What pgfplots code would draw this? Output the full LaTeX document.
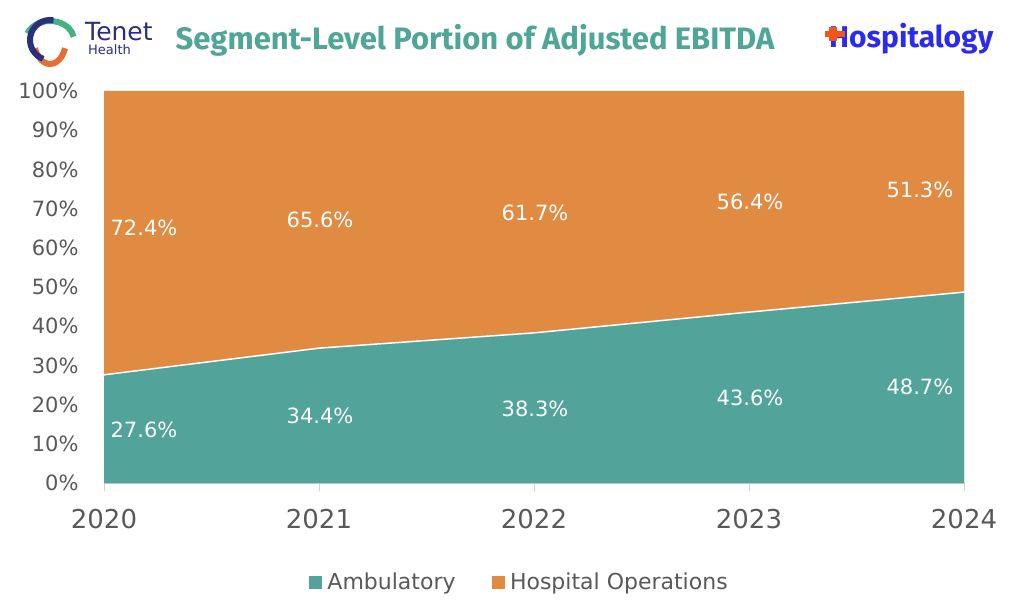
\documentclass[border=0pt]{standalone}
\usepackage{pgfplots}
\pgfplotsset{compat=1.18}
\usepackage{pgfplotstable}
\usepackage{fontspec}
\setmainfont{DejaVu Sans}
\newfontfamily\titlefont{Fira Sans}
\definecolor{teal}{HTML}{52A39A}
\definecolor{orng}{HTML}{E08A42}
\definecolor{ttl}{HTML}{4FA596}
\definecolor{tick}{HTML}{595959}
\definecolor{navy}{HTML}{2B2F7F}
\definecolor{hblue}{HTML}{2B2BEE}
\definecolor{hred}{HTML}{F2561D}
\definecolor{axisgray}{HTML}{D0D0D0}
\pgfplotstableread{
x amb hosp
0 27.6 72.4
1 34.4 65.6
2 38.3 61.7
3 43.6 56.4
4 48.7 51.3
}\datatable
\begin{document}
\begin{tikzpicture}[x=1pt,y=1pt]
\useasboundingbox (0,0) rectangle (1024,614);
% Tenet logo
\begin{scope}[shift={(50,574)}]
  \draw[teal!85!green, line width=6pt] (160:24 and 19) arc (160:10:24 and 19);
  \draw[orng!80!red, line width=6pt] (-20:16 and 24) arc (-20:-160:16 and 24);
  \draw[navy, line width=6pt] (80:20 and 20) arc (80:250:20 and 20);
\end{scope}
\node[anchor=base west, text=navy, font=\fontsize{25}{28}\selectfont, inner sep=0] at (85,573) {Tenet};
\node[anchor=base west, text=navy, font=\fontsize{13}{15}\selectfont, inner sep=0] at (88,559) {Health};
% Title
\node[anchor=base, text=ttl, font=\titlefont\bfseries\fontsize{31}{34}\selectfont, inner sep=0] at (475,564) {Segment-Level Portion of Adjusted EBITDA};
% Hospitalogy logo
\node[anchor=base west, text=hblue, font=\titlefont\bfseries\fontsize{30}{34}\selectfont, inner sep=0] at (829,566) {Hospitalogy};
\fill[hred] (825,577) rectangle (845,583);
\fill[hred] (829,573) rectangle (837,587);
\begin{axis}[
  at={(104pt,131pt)}, anchor=south west,
  scale only axis, width=860pt, height=392pt,
  xmin=0, xmax=4, ymin=0, ymax=100,
  xtick={0,1,2,3,4}, xticklabels={2020,2021,2022,2023,2024},
  ytick={0,10,...,100},
  yticklabel={\pgfmathprintnumber{\tick}\%},
  /pgf/number format/assume math mode=true,
  axis x line*=bottom, axis y line*=left,
  axis line style={axisgray, line width=1pt},
  x axis line style={-}, y axis line style={-},
  xtick style={draw=axisgray, line width=1pt},
  major tick length=8pt,
  ytick style={draw=none},
  xticklabel style={text=tick, font=\fontsize{26}{30}\selectfont, yshift=-15pt},
  yticklabel style={text=tick, font=\fontsize{21}{24}\selectfont, xshift=-14pt},
  tick align=outside,
  clip=false,
  legend style={at={(0.483,-0.2526)}, anchor=center, draw=none, legend columns=2,
    font=\fontsize{22}{25}\selectfont, text=tick,
    /tikz/every even column/.append style={column sep=34pt}},
  legend image code/.code={\fill[#1] (0pt,-6pt) rectangle (12pt,6pt); \path (16pt,0pt);},
]
\addplot[fill=orng, draw=none, forget plot] table[x=x, y expr=\thisrow{amb}+\thisrow{hosp}] {\datatable} \closedcycle;
\addplot[fill=teal, draw=none, forget plot] table[x=x, y=amb] {\datatable} \closedcycle;
\addplot[white, line width=1.5pt, forget plot] table[x=x, y=amb] {\datatable};
\addlegendimage{teal}\addlegendentry{Ambulatory}
\addlegendimage{orng}\addlegendentry{Hospital Operations}
\begin{scope}[every node/.style={text=white, font=\fontsize{21}{24}\selectfont}]
\node at (axis cs:0.186,13.5) {27.6\%};
\node at (axis cs:1.005,17.1) {34.4\%};
\node at (axis cs:2.005,18.9) {38.3\%};
\node at (axis cs:3.005,21.7) {43.6\%};
\node at (axis cs:3.795,24.5) {48.7\%};
\node at (axis cs:0.186,65.05) {72.4\%};
\node at (axis cs:1.005,67.1) {65.6\%};
\node at (axis cs:2.005,68.9) {61.7\%};
\node at (axis cs:3.005,71.7) {56.4\%};
\node at (axis cs:3.795,74.7) {51.3\%};
\end{scope}
\end{axis}
\end{tikzpicture}
\end{document}
